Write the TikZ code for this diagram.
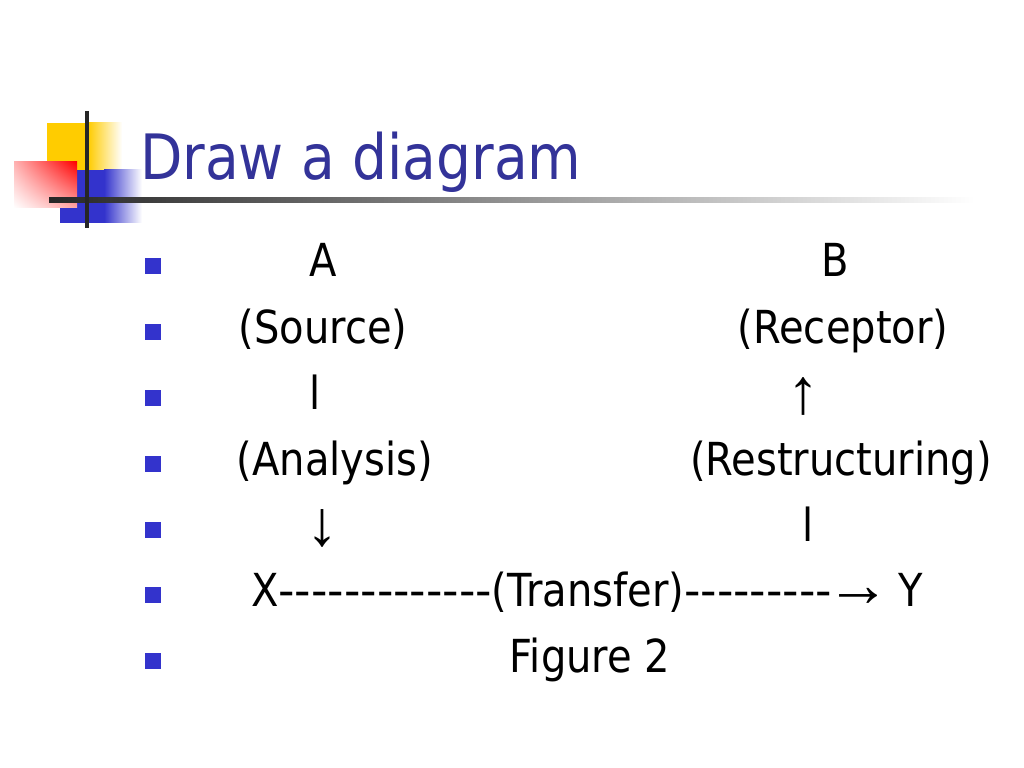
\documentclass[tikz,border=0pt]{standalone}
\usepackage{fontspec}
\usetikzlibrary{shadings}
\newfontfamily\bodyfont{DejaVu Sans}[FakeStretch=0.88]
\newfontfamily\dashfont{DejaVu Sans}
\newfontfamily\arrowfont{Liberation Serif}
\newcommand{\arrowbig}{\arrowfont\fontsize{45}{50}\selectfont}
\definecolor{titleblue}{HTML}{333399}
\definecolor{bulletblue}{HTML}{3333CC}
\definecolor{decoyellow}{HTML}{FFCC00}
\definecolor{decored}{HTML}{FF0000}
\tikzset{
  body/.style={inner sep=0pt, outer sep=0pt, anchor=base, text=black, font=\bodyfont\fontsize{32}{38}\selectfont},
  titletext/.style={inner sep=0pt, outer sep=0pt, anchor=base west, text=titleblue, font=\bodyfont\fontsize{44}{52}\selectfont},
  bulletsq/.style={fill=bulletblue, draw=none, inner sep=0pt, minimum size=11.25pt},
  decoline/.style={draw=black!85, line width=2.6pt}
}
\begin{document}
\begin{tikzpicture}[x=0.703125pt,y=-0.703125pt]
\useasboundingbox[fill=white] (0,0) rectangle (1024,768);
% decoration
\fill[decoyellow] (47,123) rectangle (88,170);
\shade[left color=decoyellow, right color=white] (88,123) rectangle (122,170);
\fill[bulletblue] (60,170) rectangle (104,223);
\shade[left color=bulletblue, right color=white] (104,170) rectangle (142,223);
\shade[upper left=decored!30, upper right=decored, lower left=white, lower right=decored!35] (14,162) rectangle (77,208);
\shade[left color=black!85, right color=white] (49,198) rectangle (975,203);
\coordinate (vtop) at (87,111);
\coordinate (vbot) at (87,228);
\draw[decoline] (vtop) -- (vbot);
% title
\node[titletext] (title) at (140,180) {Draw a diagram};
% bullets
\foreach \i/\b in {1/277,2/343,3/409,4/475,5/541,6/606,7/672}
  \node[bulletsq] (bul\i) at (153,\b-11) {};
% body
\node[body] (a) at (323,277) {A};
\node[body] (b) at (835,277) {B};
\node[body] (source) at (323,343) {(Source)};
\node[body] (receptor) at (843,343) {(Receptor)};
\node[body] (bara) at (315,409) {l};
\node[body] (up) at (803,413) {\arrowbig ↑};
\node[body] (analysis) at (335,475) {(Analysis)};
\node[body] (restr) at (841,475) {(Restructuring)};
\node[body] (down) at (322,545) {\arrowbig ↓};
\node[body] (barb) at (808,541) {l};
\node[body, anchor=base west] (transfer) at (251,606) {X{\dashfont -------------}(Transfer){\dashfont ---------}{\arrowbig\kern-4pt →\kern-3pt} Y};
\node[body] (figure) at (590,672) {Figure 2};
\end{tikzpicture}
\end{document}
